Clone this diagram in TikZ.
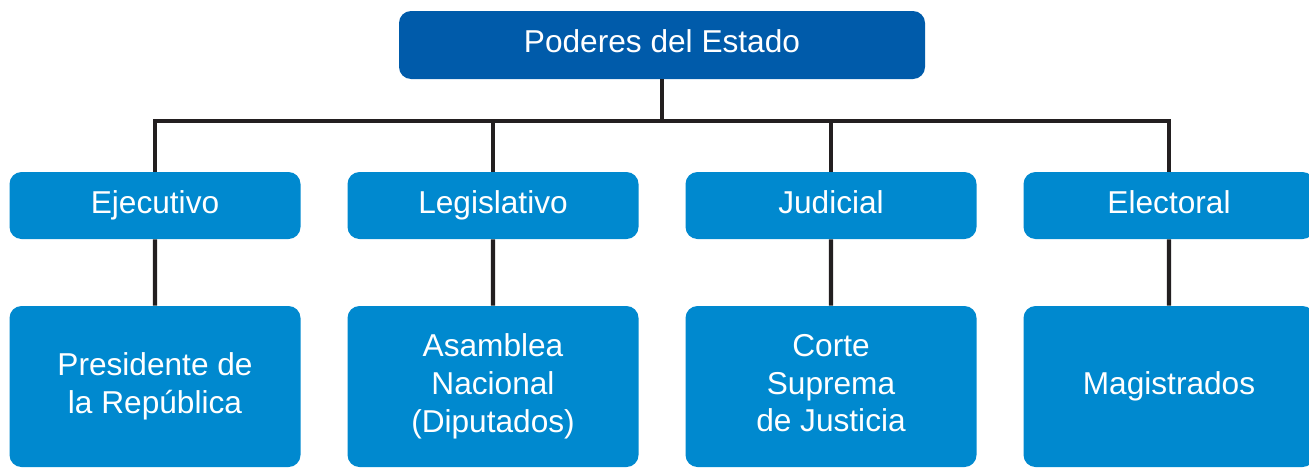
\documentclass[tikz,border=0pt]{standalone}
\usepackage{fontspec}
\setmainfont{Liberation Sans}
\usetikzlibrary{shapes}
\definecolor{azulosc}{HTML}{005BAA}
\definecolor{azulcla}{HTML}{0089CF}
\definecolor{linea}{HTML}{231F20}
\tikzset{
  treenode/.style = {align=center, inner sep=0pt, text centered, white,
    font=\fontsize{18}{21.5}\selectfont, text depth=4pt,
    rounded corners=0.24cm},
  pod_raiz/.style = {treenode, rectangle, fill=azulosc,
    minimum width=10.52cm, minimum height=1.36cm},% poderes, raiz
  pod_n/.style = {treenode, rectangle, fill=azulcla,
    minimum width=5.82cm, minimum height=1.34cm},% poder, nodo
  pod_h/.style = {treenode, rectangle, fill=azulcla,
    minimum width=5.82cm, minimum height=3.22cm}% poder, hoja
}

\begin{document}
\begin{tikzpicture}[edge from parent/.style={draw=linea, line width=2.5pt},
  level 1/.style={sibling distance=6.76cm, level distance=3.21cm,
    edge from parent path={(\tikzparentnode.south) -- ++(0,-0.83)
      -| (\tikzchildnode.north)}},
  level 2/.style={level distance=3.62cm,
    edge from parent path={(\tikzparentnode.south) -- (\tikzchildnode.north)}}]
\useasboundingbox (0,0) rectangle (26.18,9.34);
\clip (0,0) rectangle (26.18,9.34);
\node [pod_raiz] (poderes) at (13.24,8.44) {Poderes del Estado}
    child{ node [pod_n] (ejecutivo) {Ejecutivo}
            child{ node [pod_h] (presidente) {Presidente de\\la República}}
    }
    child{ node [pod_n] (legislativo) {Legislativo}
            child{ node [pod_h] (asamblea) {Asamblea\\Nacional\\(Diputados)}}
    }
    child{ node [pod_n] (judicial) {Judicial}
            child{ node [pod_h] (corte) {Corte\\Suprema\\de Justicia}}
    }
    child{ node [pod_n] (electoral) {Electoral}
            child{ node [pod_h] (magistrados) {Magistrados}}
    }
;
\end{tikzpicture}
\end{document}
